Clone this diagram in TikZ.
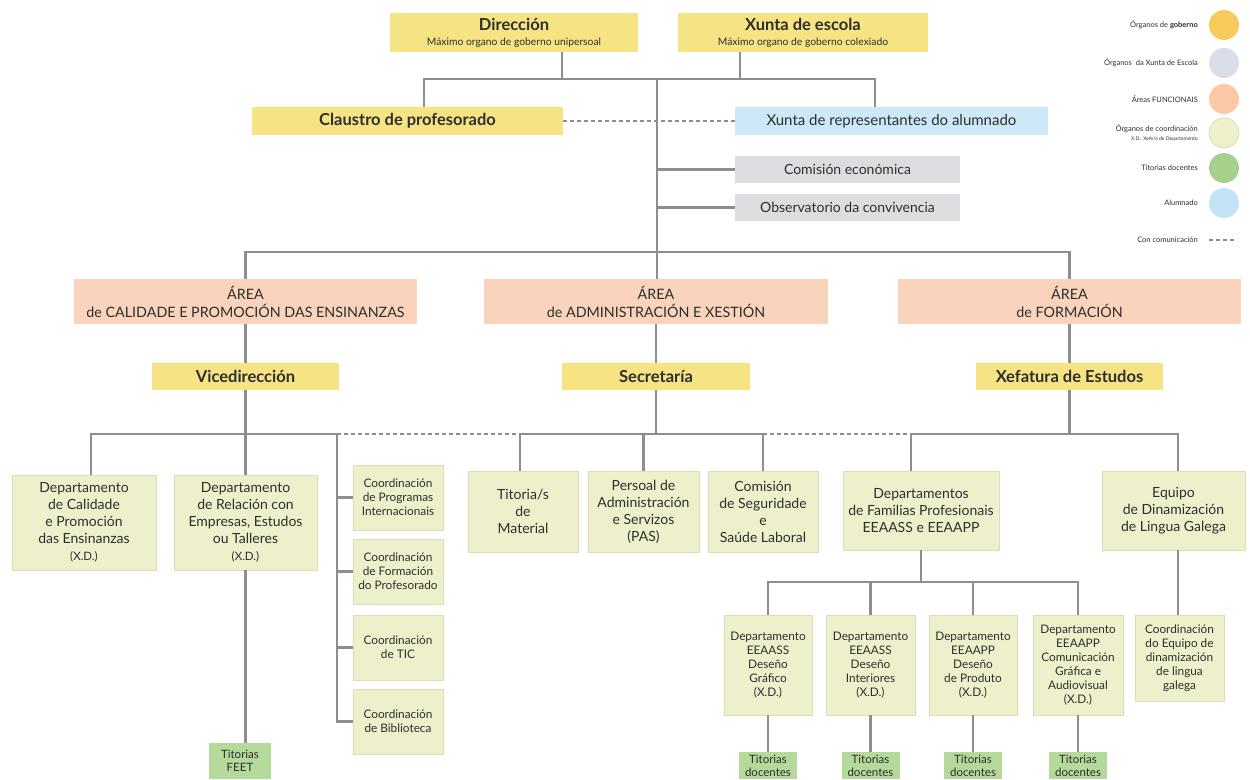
\documentclass[tikz,border=0pt]{standalone}
\usepackage{fontspec}
\setmainfont{Lato}
\definecolor{linegray}{HTML}{8E8E8E}
\definecolor{textcol}{HTML}{2E2E2E}
\definecolor{govfill}{HTML}{F6E383}
\definecolor{govdot}{HTML}{F8C95B}
\definecolor{xunfill}{HTML}{DCDDE1}
\definecolor{xundot}{HTML}{D9DEE8}
\definecolor{areafill}{HTML}{F9D3BC}
\definecolor{areadot}{HTML}{F9C9A6}
\definecolor{coofill}{HTML}{EEF0CB}
\definecolor{cooline}{HTML}{DADDB8}
\definecolor{titfill}{HTML}{B4D99A}
\definecolor{titdot}{HTML}{A8D08D}
\definecolor{alufill}{HTML}{CDE8F6}
\definecolor{aludot}{HTML}{C4E3F7}
\begin{document}
\begin{tikzpicture}[x=1pt,y=-1pt,
  conn/.style={draw=linegray, line width=2.2pt},
  dashconn/.style={draw=linegray, line width=1.6pt, dash pattern=on 4pt off 3pt},
  box/.style={inner sep=0pt, align=center, text=textcol, font=\fontsize{14}{17}\selectfont},
  gov/.style={box, fill=govfill},
  govhead/.style={gov, font=\fontsize{16.5}{18}\selectfont\bfseries},
  xun/.style={box, fill=xunfill, font=\fontsize{14}{16}\selectfont},
  area/.style={box, fill=areafill, font=\fontsize{14.3}{18}\selectfont},
  coo/.style={box, fill=coofill, draw=cooline, line width=0.8pt},
  coosmall/.style={coo, font=\fontsize{11.8}{14}\selectfont},
  tit/.style={box, fill=titfill, font=\fontsize{11.5}{13}\selectfont},
  alu/.style={box, fill=alufill, font=\fontsize{15}{16}\selectfont},
  legtext/.style={inner sep=0pt, anchor=east, text=textcol, font=\fontsize{7.5}{9}\selectfont, align=right},
  dot/.style={circle, minimum size=30pt, inner sep=0pt}
]
\useasboundingbox (0,0) rectangle (1250,779);

% ---------- top level ----------
\node[gov, minimum width=248pt, minimum height=39pt] (dir) at (514,32.5)
  {{\fontsize{16.5}{16}\selectfont\bfseries Dirección}\\[-2pt]{\fontsize{10.3}{11}\selectfont Máximo organo de goberno unipersoal}};
\node[gov, minimum width=250pt, minimum height=39pt] (xesc) at (803,32.5)
  {{\fontsize{16.5}{16}\selectfont\bfseries Xunta de escola}\\[-2pt]{\fontsize{10.3}{11}\selectfont Máximo organo de goberno colexiado}};
\node[govhead, minimum width=311pt, minimum height=28pt] (cla) at (407.5,121) {Claustro de profesorado};
\node[alu, minimum width=313pt, minimum height=28pt] (xrep) at (891.5,121) {Xunta de representantes do alumnado};
\node[xun, minimum width=225pt, minimum height=27pt] (com) at (847.5,169.5) {Comisión económica};
\node[xun, minimum width=225pt, minimum height=27pt] (obs) at (847.5,207.5) {Observatorio da convivencia};

% ---------- areas ----------
\node[area, minimum width=343pt, minimum height=45pt] (a1) at (245.5,301.5) {ÁREA\\de CALIDADE E PROMOCIÓN DAS ENSINANZAS};
\node[area, minimum width=344pt, minimum height=45pt] (a2) at (656,301.5) {ÁREA\\de ADMINISTRACIÓN E XESTIÓN};
\node[area, minimum width=343pt, minimum height=45pt] (a3) at (1069.5,301.5) {ÁREA\\de FORMACIÓN};

\node[govhead, minimum width=187pt, minimum height=27pt] (vic) at (245.5,376.5) {Vicedirección};
\node[govhead, minimum width=188pt, minimum height=27pt] (sec) at (656,376.5) {Secretaría};
\node[govhead, minimum width=187pt, minimum height=27pt] (xef) at (1069.5,376.5) {Xefatura de Estudos};

% ---------- third level ----------
\node[coo, minimum width=144pt, minimum height=95pt] (dcal) at (84,522.5)
  {Departamento\\de Calidade\\e Promoción\\das Ensinanzas\\{\fontsize{11.5}{12}\selectfont (X.D.)}};
\node[coo, minimum width=143pt, minimum height=95pt] (drel) at (245.5,522.5)
  {Departamento\\de Relación con\\Empresas, Estudos\\ou Talleres\\{\fontsize{11.5}{12}\selectfont (X.D.)}};
\node[coosmall, minimum width=90pt, minimum height=65pt] (c1) at (398,497.5) {Coordinación\\de Programas\\Internacionais};
\node[coosmall, minimum width=90pt, minimum height=65pt] (c2) at (398,571.5) {Coordinación\\de Formación\\do Profesorado};
\node[coosmall, minimum width=90pt, minimum height=65pt] (c3) at (398,647.5) {Coordinación\\de TIC};
\node[coosmall, minimum width=90pt, minimum height=65pt] (c4) at (398,721.5) {Coordinación\\de Biblioteca};
\node[coo, minimum width=110pt, minimum height=81pt] (tmat) at (523,511.5) {Titoria/s\\de\\Material};
\node[coo, minimum width=111pt, minimum height=81pt] (pas) at (643.5,511.5) {Persoal de\\Administración\\e Servizos\\(PAS)};
\node[coo, minimum width=110pt, minimum height=81pt] (cseg) at (763,511.5) {Comisión\\de Seguridade\\e\\Saúde Laboral};
\node[coo, minimum width=156pt, minimum height=79pt] (dfam) at (921,510.5) {Departamentos\\de Familias Profesionais\\EEAASS e EEAAPP};
\node[coo, minimum width=143pt, minimum height=79pt] (equ) at (1173.5,510.5) {Equipo\\de Dinamización\\de Lingua Galega};

% ---------- fourth level ----------
\node[coosmall, minimum width=88pt, minimum height=100pt] (s1) at (768,665) {Departamento\\EEAASS\\Deseño\\Gráfico\\(X.D.)};
\node[coosmall, minimum width=89pt, minimum height=100pt] (s2) at (870.5,665) {Departamento\\EEAASS\\Deseño\\Interiores\\(X.D.)};
\node[coosmall, minimum width=88pt, minimum height=100pt] (s3) at (973,665) {Departamento\\EEAAPP\\Deseño\\de Produto\\(X.D.)};
\node[coosmall, minimum width=90pt, minimum height=100pt] (s4) at (1078,665) {Departamento\\EEAAPP\\Comunicación\\Gráfica e\\Audiovisual\\(X.D.)};
\node[coosmall, minimum width=89pt, minimum height=86pt] (ceq) at (1179.5,658) {Coordinación\\do Equipo de\\dinamización\\de lingua\\galega};

\node[tit, minimum width=62pt, minimum height=36pt] (tfeet) at (240,761) {Titorias\\FEET};
\node[tit, minimum width=58pt, minimum height=27pt] (t1) at (768,765.5) {Titorias\\docentes};
\node[tit, minimum width=58pt, minimum height=27pt] (t2) at (870.5,765.5) {Titorias\\docentes};
\node[tit, minimum width=58pt, minimum height=27pt] (t3) at (973,765.5) {Titorias\\docentes};
\node[tit, minimum width=58pt, minimum height=27pt] (t4) at (1078,765.5) {Titorias\\docentes};

% ---------- connectors ----------
\coordinate (jtop) at (657,79);
\draw[conn] (562,0 |- dir.south) -- (562,79);
\draw[conn] (740,0 |- xesc.south) -- (740,79);
\draw[conn] (424,0 |- cla.north) -- (424,79) -- (875,79) -- (875,0 |- xrep.north);
\draw[conn] (jtop) -- (657,0 |- a2.north);
\draw[conn] (657,0 |- com.west) -- (com.west);
\draw[conn] (657,0 |- obs.west) -- (obs.west);
\draw[dashconn] (cla.east) -- (xrep.west);
\draw[conn] (a1.north) -- (245.5,252) -- (1069.5,252) -- (a3.north);
\draw[conn] (a1.south) -- (vic.north);
\draw[conn] (a2.south) -- (sec.north);
\draw[conn] (a3.south) -- (xef.north);

% Vicedirección branch
\draw[conn] (vic.south) -- (245.5,434);
\draw[conn] (91,0 |- dcal.north) -- (91,434) -- (337,434) -- (337,0 |- c4.west) -- (c4.west);
\draw[conn] (drel.north) -- (245.5,434);
\draw[conn] (337,0 |- c1.west) -- (c1.west);
\draw[conn] (337,0 |- c2.west) -- (c2.west);
\draw[conn] (337,0 |- c3.west) -- (c3.west);
\draw[conn] (drel.south) -- (tfeet.north -| drel.south);

% Secretaría branch
\draw[conn] (sec.south) -- (656,434);
\draw[conn] (520,0 |- tmat.north) -- (520,434) -- (763,434) -- (cseg.north);
\draw[conn] (pas.north) -- (643.5,434);
\draw[dashconn] (337,434) -- (520,434);
\draw[dashconn] (763,434) -- (911,434);

% Xefatura branch
\draw[conn] (xef.south) -- (1069.5,434);
\draw[conn] (911,0 |- dfam.north) -- (911,434) -- (1178,434) -- (1178,0 |- equ.north);
\draw[conn] (dfam.south) -- (921,582);
\draw[conn] (s1.north) -- (768,582) -- (1078,582) -- (s4.north);
\draw[conn] (s2.north) -- (870.5,582);
\draw[conn] (s3.north) -- (973,582);
\draw[conn] (1178,0 |- equ.south) -- (1178,0 |- ceq.north);
\draw[conn] (s1.south) -- (t1.north);
\draw[conn] (s2.south) -- (t2.north);
\draw[conn] (s3.south) -- (t3.north);
\draw[conn] (s4.south) -- (t4.north);

% ---------- legend ----------
\node[dot, fill=govdot] (l1) at (1224,25) {};
\node[dot, fill=xundot] (l2) at (1224,63) {};
\node[dot, fill=areadot] (l3) at (1224,99) {};
\node[dot, fill=coofill, draw=cooline, line width=0.8pt] (l4) at (1224,133) {};
\node[dot, fill=titdot] (l5) at (1224,168) {};
\node[dot, fill=aludot] (l6) at (1224,203) {};
\node[legtext] (lt1) at (1198,25) {Órganos de \textbf{goberno}};
\node[legtext] (lt2) at (1198,63) {Órganos\ \ da Xunta de Escola};
\node[legtext] (lt3) at (1198,99) {Áreas FUNCIONAIS};
\node[legtext] (lt4) at (1198,133) {Órganos de coordinación\\{\fontsize{5}{6}\selectfont X.D.: Xefe/a de Departamento}};
\node[legtext] (lt5) at (1198,168) {Titorias docentes};
\node[legtext] (lt6) at (1198,203) {Alumnado};
\node[legtext] (lt7) at (1198,240) {Con comunicación};
\coordinate (ld1) at (1209,240);
\coordinate (ld2) at (1236,240);
\draw[dashconn, line width=1.2pt] (ld1) -- (ld2);
\end{tikzpicture}
\end{document}
